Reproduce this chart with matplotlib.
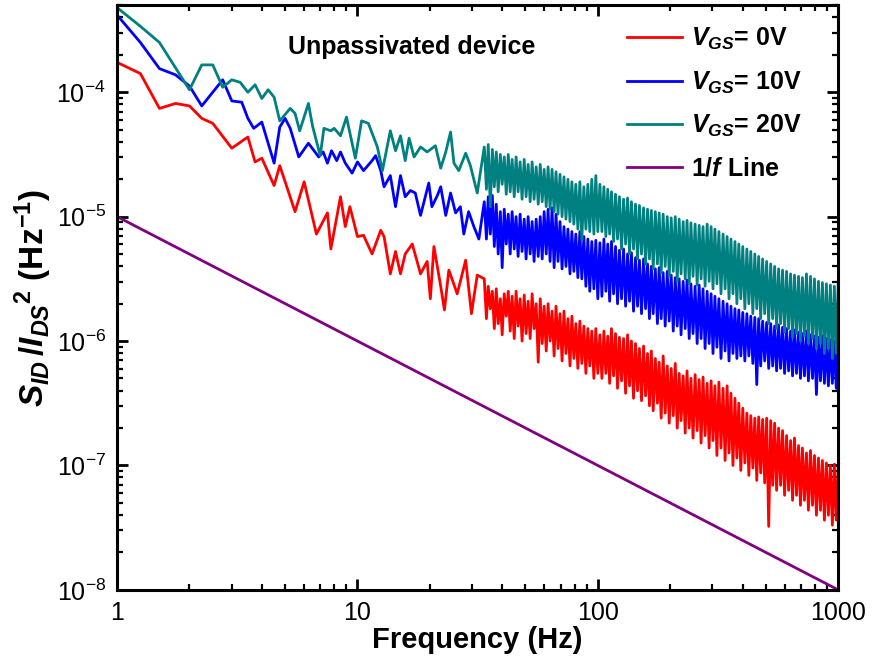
import matplotlib
matplotlib.use("Agg")
import matplotlib.pyplot as plt
import numpy as np
from matplotlib.ticker import NullFormatter

plt.rcParams['font.family'] = ['Liberation Sans', 'DejaVu Sans']
plt.rcParams['mathtext.fontset'] = 'custom'
plt.rcParams['mathtext.rm'] = 'Liberation Sans:bold'
plt.rcParams['mathtext.it'] = 'Liberation Sans:italic:bold'
plt.rcParams['mathtext.bf'] = 'Liberation Sans:bold'

# ---- low frequency part, read point by point (Hz, log10 of S/I^2) ----
f_0v = [1.0, 1.25, 1.5, 1.75, 2.0, 2.25, 2.5, 3.0, 3.5, 3.75, 4.0, 4.5, 4.75, 5.5, 6.0,
        6.75, 7.5, 7.75, 8.5, 8.9, 9.3, 10.0, 10.6, 11.5, 12.5, 12.9, 13.7, 14.4, 15.1,
        15.8, 16.9, 18.3, 19.5, 20.1, 20.8, 22.2, 23.0, 24.0, 26.0, 28.2, 29.8, 31.5]
e_0v = [-3.76, -3.85, -4.13, -4.09, -4.11, -4.21, -4.25, -4.45, -4.36, -4.56, -4.53, -4.75,
        -4.59, -4.96, -4.72, -5.14, -4.97, -5.26, -4.84, -5.08, -4.92, -5.16, -5.15, -5.30,
        -5.11, -5.16, -5.46, -5.28, -5.46, -5.30, -5.22, -5.46, -5.36, -5.66, -5.24, -5.56,
        -5.75, -5.43, -5.62, -5.35, -5.78, -5.47]

f_10v = [1.0, 1.25, 1.5, 1.75, 2.0, 2.25, 2.75, 3.0, 3.3, 3.5, 3.7, 4.0, 4.5, 4.75, 5.0,
         5.25, 5.7, 6.25, 6.9, 7.2, 7.5, 7.8, 8.2, 8.5, 8.9, 9.5, 10.0, 10.6, 11.5, 11.9,
         12.5, 12.9, 13.7, 14.4, 15.1, 15.8, 16.6, 17.4, 18.3, 19.8, 20.4, 21.5, 22.2, 23.3,
         24.4, 25.6, 26.8, 27.7, 29.0, 30.5, 32.0]
e_10v = [-3.38, -3.60, -3.81, -3.86, -3.95, -4.11, -3.90, -4.07, -4.08, -4.21, -4.29, -4.24,
         -4.57, -4.28, -4.21, -4.29, -4.52, -4.41, -4.52, -4.48, -4.57, -4.47, -4.55, -4.48,
         -4.57, -4.65, -4.56, -4.63, -4.55, -4.51, -4.63, -4.76, -4.67, -4.92, -4.67, -4.84,
         -4.79, -4.81, -4.99, -4.73, -4.92, -4.83, -4.76, -4.99, -4.81, -4.97, -4.92, -5.14,
         -4.96, -5.08, -5.18]

f_20v = [1.0, 1.25, 1.5, 2.0, 2.25, 2.5, 2.75, 3.0, 3.25, 3.5, 3.75, 4.0, 4.25, 4.5, 4.75,
         5.25, 5.5, 5.75, 6.25, 6.5, 7.0, 7.25, 7.75, 8.0, 8.5, 9.0, 9.8, 10.4, 11.1, 12.1,
         12.7, 13.7, 14.4, 15.1, 15.8, 16.4, 17.2, 18.3, 19.5, 21.1, 22.2, 23.3, 24.4, 25.2,
         26.4, 28.2, 29.5, 31.5]
e_20v = [-3.32, -3.47, -3.60, -3.98, -3.78, -3.78, -3.96, -3.90, -3.92, -4.00, -3.94, -4.05,
         -3.98, -4.04, -4.23, -4.13, -4.17, -4.31, -4.09, -4.27, -4.51, -4.29, -4.31, -4.29,
         -4.35, -4.20, -4.53, -4.23, -4.25, -4.44, -4.63, -4.31, -4.47, -4.35, -4.55, -4.37,
         -4.52, -4.44, -4.48, -4.43, -4.61, -4.48, -4.32, -4.57, -4.63, -4.49, -4.59, -4.81]

# ---- noisy band 33-100 Hz (shared frequency points) ----
f_mid = [33.7, 34.4, 35, 35.7, 36.4, 37.1, 37.8, 38.5, 39.3, 40, 40.8, 41.6, 42.4, 43.2, 44,
         44.9, 45.7, 46.6, 47.5, 48.4, 49.4, 50.3, 51.3, 52.3, 53.3, 54.3, 55.4, 56.5, 57.6,
         58.7, 59.8, 61, 62.1, 63.3, 64.5, 65.8, 67, 68.3, 69.6, 71, 72.3, 73.7, 75.1, 76.6,
         78, 79.5, 81, 82.6, 84.2, 85.8, 87.5, 89.2, 90.9, 92.6, 94.4, 96.3, 98.1, 100]
e_0v_mid = [-5.50, -5.82, -5.56, -5.74, -5.60, -5.90, -5.58, -5.86, -5.66, -5.95, -5.62,
            -5.80, -5.60, -5.92, -5.64, -5.98, -5.60, -5.88, -5.66, -6.00, -5.63, -5.94,
            -5.68, -5.98, -5.62, -5.90, -5.70, -6.17, -5.66, -6.02, -5.72, -6.08, -5.70,
            -6.00, -5.76, -6.12, -5.72, -6.06, -5.78, -6.16, -5.76, -6.10, -5.82, -6.20,
            -5.80, -6.14, -5.86, -6.22, -5.84, -6.18, -5.88, -6.26, -5.90, -6.20, -5.92,
            -6.30, -5.90, -6.26]
e_10v_mid = [-4.88, -5.18, -4.84, -5.14, -4.83, -5.24, -4.90, -5.30, -4.96, -5.41, -4.94,
             -5.22, -4.98, -5.30, -4.96, -5.26, -5.00, -5.32, -4.98, -5.28, -5.02, -5.34,
             -5.00, -5.30, -5.04, -5.36, -5.02, -5.32, -5.00, -5.34, -4.96, -5.30, -4.94,
             -5.36, -4.93, -5.41, -4.98, -5.36, -5.04, -5.42, -5.08, -5.40, -5.10, -5.46,
             -5.12, -5.44, -5.14, -5.49, -5.12, -5.50, -5.16, -5.56, -5.18, -5.60, -5.20,
             -5.58, -5.19, -5.66]
e_20v_mid = [-4.44, -4.78, -4.42, -4.92, -4.46, -4.76, -4.48, -4.80, -4.50, -4.74, -4.52,
             -4.82, -4.50, -4.80, -4.54, -4.84, -4.52, -4.80, -4.56, -4.86, -4.54, -4.84,
             -4.58, -4.88, -4.56, -4.86, -4.60, -4.90, -4.58, -4.88, -4.62, -4.92, -4.60,
             -4.94, -4.62, -4.96, -4.64, -4.98, -4.66, -5.00, -4.68, -5.02, -4.70, -5.04,
             -4.72, -5.06, -4.74, -5.10, -4.72, -5.19, -4.76, -5.10, -4.74, -5.12, -4.70,
             -5.14, -4.67, -5.12]

# ---- noisy band 100-1000 Hz (shared frequency points) ----
f_hi = [102, 104, 106, 108, 110, 112, 114, 116.3, 118.5, 120.8, 123, 125.5, 128, 130.5, 133,
        135.5, 138, 140.8, 143.5, 146.3, 149, 152, 155, 158, 161, 164, 167, 170, 173.5, 177,
        180, 183.5, 187, 190.7, 194.5, 198.2, 202, 206, 210, 214, 218, 222, 226.5, 231, 235,
        240, 244, 249, 254, 259, 264, 269, 274, 279.5, 285, 290.5, 296, 301.5, 307, 313, 319,
        325.5, 332, 338.5, 345, 351.5, 358, 365, 372, 379, 386, 393.5, 401, 409, 417, 425,
        433, 441.5, 450, 458.5, 467, 476, 485, 494.5, 504, 514, 524, 534, 544, 554.5, 565,
        576, 587, 598.5, 610, 622, 634, 646, 658, 671, 684, 697, 710, 724, 738, 752, 767,
        782, 797, 812, 828, 844, 860, 876.5, 893, 910.5, 928, 946, 964, 982, 1000]
e_0v_hi = [-5.95, -6.30, -5.92, -6.26, -5.96, -6.34, -5.90, -6.28, -5.94, -6.38, -5.97, -6.32,
           -5.98, -6.42, -5.95, -6.36, -6.00, -6.46, -6.02, -6.40, -6.06, -6.48, -6.04, -6.44,
           -6.10, -6.52, -6.08, -6.56, -6.14, -6.50, -6.17, -6.62, -6.12, -6.58, -6.20, -6.66,
           -6.22, -6.60, -6.18, -6.70, -6.26, -6.64, -6.28, -6.74, -6.24, -6.70, -6.30, -6.78,
           -6.27, -6.72, -6.31, -6.82, -6.29, -6.76, -6.34, -6.86, -6.32, -6.80, -6.36, -6.92,
           -6.33, -6.86, -6.38, -6.96, -6.36, -6.90, -6.42, -7.00, -6.46, -6.94, -6.50, -7.04,
           -6.54, -6.98, -6.58, -7.08, -6.60, -7.02, -6.62, -7.12, -6.61, -7.06, -6.63, -7.14,
           -6.62, -7.49, -6.64, -7.16, -6.66, -7.20, -6.70, -7.16, -6.72, -7.24, -6.76, -7.20,
           -6.80, -7.28, -6.78, -7.24, -6.84, -7.32, -6.86, -7.28, -6.90, -7.36, -6.88, -7.32,
           -6.92, -7.40, -6.94, -7.36, -6.96, -7.44, -6.98, -7.40, -7.00, -7.48, -6.99, -7.44,
           -7.02]
e_10v_hi = [-5.21, -5.64, -5.18, -5.60, -5.22, -5.68, -5.20, -5.62, -5.24, -5.70, -5.27, -5.66,
            -5.26, -5.72, -5.30, -5.68, -5.29, -5.76, -5.33, -5.72, -5.35, -5.78, -5.34, -5.74,
            -5.38, -5.82, -5.40, -5.78, -5.42, -5.86, -5.41, -5.82, -5.45, -5.88, -5.44, -5.84,
            -5.47, -5.92, -5.49, -5.88, -5.50, -5.95, -5.52, -5.90, -5.51, -5.98, -5.54, -5.94,
            -5.56, -6.02, -5.55, -5.98, -5.58, -6.06, -5.60, -6.02, -5.62, -6.10, -5.64, -6.05,
            -5.66, -6.14, -5.68, -6.08, -5.70, -6.16, -5.72, -6.10, -5.74, -6.14, -5.75, -6.12,
            -5.77, -6.16, -5.78, -6.12, -5.80, -6.18, -5.81, -6.35, -5.82, -6.20, -5.84, -6.16,
            -5.85, -6.22, -5.86, -6.20, -5.88, -6.24, -5.87, -6.22, -5.89, -6.26, -5.90, -6.24,
            -5.92, -6.28, -5.91, -6.26, -5.93, -6.30, -5.94, -6.28, -5.92, -6.32, -5.95, -6.30,
            -5.96, -6.43, -5.97, -6.32, -5.96, -6.34, -5.98, -6.36, -5.99, -6.34, -6.00, -6.38,
            -5.98]
e_20v_hi = [-4.74, -5.12, -4.76, -5.16, -4.78, -5.14, -4.80, -5.20, -4.82, -5.18, -4.84, -5.26,
            -4.86, -5.22, -4.85, -5.30, -4.88, -5.26, -4.90, -5.34, -4.91, -5.30, -4.93, -5.38,
            -4.94, -5.34, -4.95, -5.42, -4.96, -5.38, -4.97, -5.45, -4.98, -5.40, -5.00, -5.48,
            -5.01, -5.44, -5.00, -5.52, -5.02, -5.46, -5.04, -5.50, -5.03, -5.54, -5.05, -5.48,
            -5.06, -5.55, -5.07, -5.50, -5.08, -5.56, -5.06, -5.52, -5.08, -5.58, -5.10, -5.54,
            -5.12, -5.62, -5.14, -5.58, -5.16, -5.66, -5.18, -5.62, -5.20, -5.70, -5.22, -5.66,
            -5.24, -5.74, -5.26, -5.70, -5.28, -5.78, -5.30, -5.74, -5.32, -5.82, -5.34, -5.78,
            -5.36, -5.86, -5.38, -5.82, -5.40, -5.90, -5.42, -5.86, -5.43, -5.93, -5.44, -5.90,
            -5.46, -5.97, -5.47, -5.94, -5.48, -6.00, -5.49, -5.96, -5.46, -6.02, -5.48, -5.98,
            -5.50, -6.06, -5.52, -6.02, -5.53, -6.10, -5.54, -6.06, -5.55, -6.14, -5.56, -6.10,
            -5.55]

# 1/f reference line
f_ref = [1, 1000]
s_ref = [1e-5, 1e-8]

series = [
    (f_0v, e_0v, e_0v_mid, e_0v_hi, "#ff0000", r"$V_{GS}$= 0V"),
    (f_10v, e_10v, e_10v_mid, e_10v_hi, "#0000ff", r"$V_{GS}$= 10V"),
    (f_20v, e_20v, e_20v_mid, e_20v_hi, "#008080", r"$V_{GS}$= 20V"),
]

fig = plt.figure(figsize=(8.74, 6.62), dpi=100)
ax = fig.add_axes([0.134, 0.109, 0.825, 0.883])

for f_lo, e_lo, e_md, e_hi, col, lab in series:
    f = np.array(f_lo + f_mid + f_hi)
    s = 10.0 ** np.array(e_lo + e_md + e_hi)
    ax.plot(f, s, color=col, lw=2.0, label=lab)
ax.plot(f_ref, s_ref, color="#800080", lw=2.0, label=r"1/$f$ Line")

ax.set_xscale("log"); ax.set_yscale("log")
ax.set_xlim(1, 1000); ax.set_ylim(1e-8, 5e-4)
ax.set_xticks([1, 10, 100, 1000])
ax.set_xticklabels(["1", "10", "100", "1000"])
ax.xaxis.set_minor_formatter(NullFormatter())
ax.yaxis.set_minor_formatter(NullFormatter())

ax.tick_params(which="both", direction="in", top=True, right=True, labelsize=18)
ax.tick_params(which="major", length=8, width=2, pad=8)
ax.tick_params(which="minor", length=4.5, width=1.6)
for sp in ax.spines.values():
    sp.set_linewidth(2.2)

ax.set_xlabel("Frequency (Hz)", fontsize=21, fontweight="bold", labelpad=1)
ax.set_ylabel(r"$S_{ID}\,/I_{DS}{}^{2}$ (Hz$^{-1}$)", fontsize=24, fontweight="bold", labelpad=2)

ax.text(0.409, 0.928, "Unpassivated device", transform=ax.transAxes,
        fontsize=18, fontweight="bold", ha="center", va="center")

ax.legend(loc="upper left", bbox_to_anchor=(0.683, 0.995), frameon=False,
          prop={"size": 18, "weight": "bold"},
          handlelength=2.2, labelspacing=0.7, handletextpad=0.35, borderpad=0.2)

fig.savefig("out.png", dpi=100)
